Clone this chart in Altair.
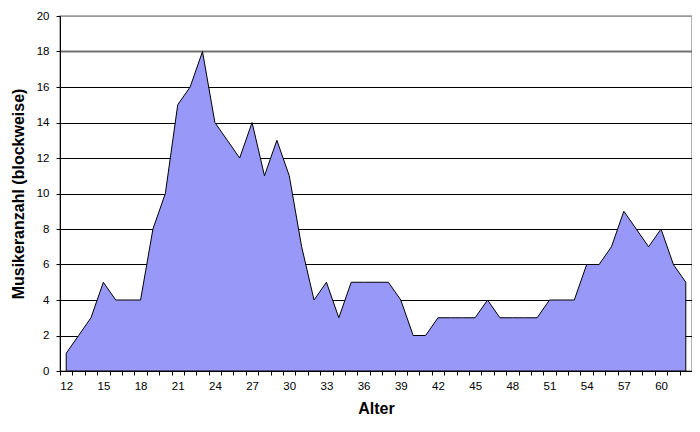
import altair as alt
import pandas as pd

ages = list(range(12, 63))
counts = [1, 2, 3, 5, 4, 4, 4, 8, 10, 15, 16, 18, 14, 13, 12, 14, 11, 13, 11, 7,
          4, 5, 3, 5, 5, 5, 5, 4, 2, 2, 3, 3, 3, 3, 4, 3, 3, 3, 3, 4,
          4, 4, 6, 6, 7, 9, 8, 7, 8, 6, 5]
y_ticks = list(range(0, 21, 2))
x_label_values = list(range(12, 61, 3))

df = pd.DataFrame({"Alter": ages, "Anzahl": counts})

W, H = 632, 355
step = W / len(ages)
boundaries = [a - 0.5 for a in ages] + [ages[-1] + 0.5]
label_set = ",".join(str(v) for v in x_label_values)

x_axis = alt.Axis(
    values=boundaries,
    labelExpr=f"indexof([{label_set}], datum.value + 0.5) >= 0 ? '' + (datum.value + 0.5) : ''",
    labelOffset=step / 2,
    labelOverlap=False,
    labelFlush=False,
    grid=False,
    tickSize=4,
    tickColor="black",
    domainColor="black",
    labelPadding=5,
    labelFont="Liberation Sans",
    labelFontSize=11.5,
    labelColor="black",
    title="Alter",
    titleFont="Liberation Sans",
    titleFontSize=16,
    titleFontWeight="bold",
    titleColor="black",
    titlePadding=9,
)

y_axis = alt.Axis(
    values=y_ticks,
    grid=True,
    gridColor={"condition": [{"test": "datum.value == 20", "value": "#999999"},
                             {"test": "datum.value == 18", "value": "#707070"}],
               "value": "black"},
    gridWidth={"condition": {"test": "datum.value == 18", "value": 2}, "value": 1},
    tickSize=4,
    tickColor="black",
    domainColor="black",
    labelPadding=7,
    labelFont="Liberation Sans",
    labelFontSize=11.5,
    labelColor="black",
    title="Musikeranzahl (blockweise)",
    titleFont="Liberation Sans",
    titleFontSize=16,
    titleFontWeight="bold",
    titleColor="black",
    titlePadding=10,
)

chart = alt.Chart(df).mark_area(
    color="#9898F8", stroke="black", strokeWidth=1, opacity=1
).encode(
    x=alt.X("Alter:Q", scale=alt.Scale(domain=[11.5, 62.5], nice=False, zero=False), axis=x_axis),
    y=alt.Y("Anzahl:Q", scale=alt.Scale(domain=[0, 20], nice=False), axis=y_axis),
).properties(
    width=W, height=H,
    autosize=alt.AutoSizeParams(type="none"),
    padding={"left": 52, "top": 8, "right": 0, "bottom": 53},
    background="white",
).configure_view(stroke="#999999", strokeWidth=1.5)

chart.save("out.html", embed_options={"renderer": "svg", "actions": False})
